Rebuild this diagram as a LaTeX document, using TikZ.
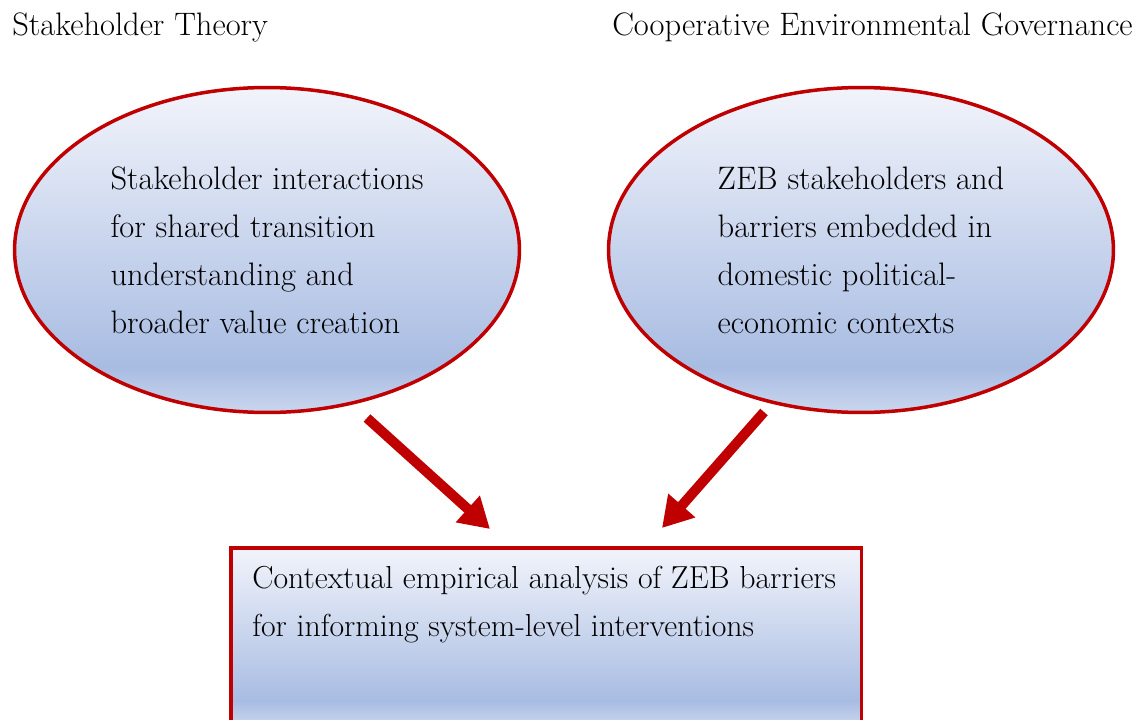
\documentclass[tikz,border=0pt]{standalone}
\usetikzlibrary{shapes.geometric,arrows.meta,positioning}

\definecolor{zebred}{HTML}{C00000}
\definecolor{fillTop}{HTML}{F2F4FB}
\definecolor{fillDeep}{HTML}{A8BCE2}
\definecolor{fillLow}{HTML}{CAD6EE}

\pgfdeclareverticalshading{zebshade}{100bp}{color(0bp)=(fillLow); color(25bp)=(fillLow); color(32bp)=(fillDeep); color(75bp)=(fillTop); color(100bp)=(fillTop)}

\tikzset{
  bubble/.style={ellipse, draw=zebred, line width=0.07cm, shading=zebshade,
    minimum width=10.1cm, minimum height=6.5cm, align=left, inner sep=0pt},
  resultbox/.style={rectangle, draw=zebred, line width=0.07cm, shading=zebshade,
    minimum width=12.62cm, minimum height=3.56cm, anchor=north west},
  bigarrow/.style={zebred, line width=0.2cm,
    -{Triangle[length=0.6cm, width=0.68cm]}}
}

\begin{document}
\begin{tikzpicture}[x=0.02cm, y=-0.02cm, font=\fontsize{18.5}{27.3}\selectfont]

% ---------- frame (reference pixels, y down) ----------
\useasboundingbox (0,0) rectangle (1143,720);

% ---------- theory headings ----------
\node[anchor=west, inner sep=0pt] (stTheory) at (12,27) {Stakeholder Theory};
\node[anchor=east, inner sep=0pt] (ceGov) at (1133,27) {Cooperative Environmental Governance};

% ---------- the two ellipses ----------
\node[bubble] (stEll) at (267,250) {Stakeholder interactions\\for shared transition\\understanding and\\broader value creation};
\node[bubble] (ceEll) at (861,250) {ZEB stakeholders and\\barriers embedded in\\domestic political-\\economic contexts};

% ---------- result box ----------
\node[resultbox] (zebBox) at (229,546) {};
\node[anchor=north west, align=left, inner sep=0pt, font=\fontsize{18.1}{27.3}\selectfont] (zebTxt) at (252,566)
  {Contextual empirical analysis of ZEB barriers\\for informing system-level interventions};

% ---------- arrows ----------
\coordinate (stFrom) at (367,418);
\coordinate (stTo) at (490,529);
\coordinate (ceFrom) at (764,412);
\coordinate (ceTo) at (662,528);
\draw[bigarrow] (stFrom) -- (stTo);
\draw[bigarrow] (ceFrom) -- (ceTo);

\end{tikzpicture}
\end{document}
